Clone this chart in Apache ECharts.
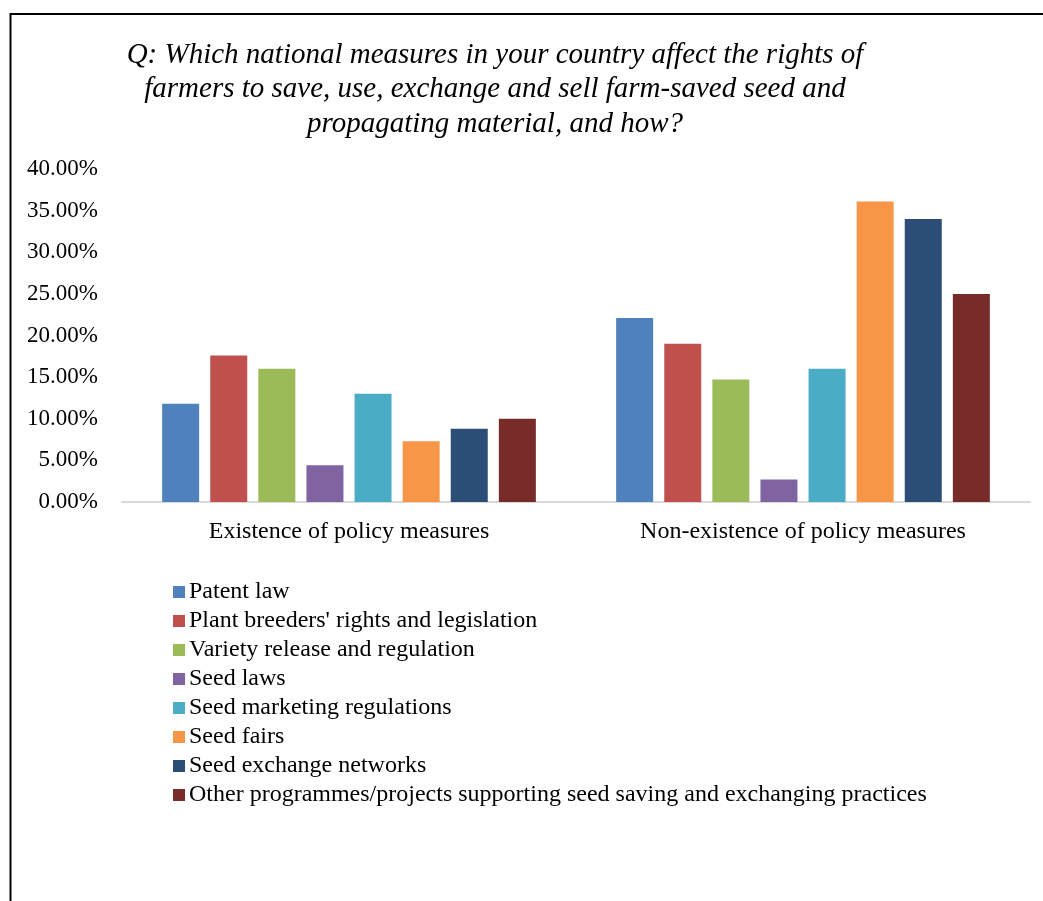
<!DOCTYPE html>
<html>
<head>
<meta charset="utf-8">
<style>
  html, body { margin: 0; padding: 0; background: #ffffff; }
  #chart { width: 1043px; height: 901px; }
</style>
<script src="https://cdn.jsdelivr.net/npm/echarts@6/dist/echarts.min.js"></script>
</head>
<body>
<div id="chart"></div>
<script>
// ---- data ----
const categories = ['Existence of policy measures', 'Non-existence of policy measures'];
const seriesNames = [
  'Patent law',
  "Plant breeders' rights and legislation",
  'Variety release and regulation',
  'Seed laws',
  'Seed marketing regulations',
  'Seed fairs',
  'Seed exchange networks',
  'Other programmes/projects supporting seed saving and exchanging practices'
];
const patentLaw          = [11.8, 22.1];
const plantBreeders      = [17.6, 19.0];
const varietyRelease     = [16.0, 14.7];
const seedLaws           = [4.4, 2.7];
const seedMarketing      = [13.0, 16.0];
const seedFairs          = [7.3, 36.1];
const seedExchange       = [8.8, 34.0];
const otherProgrammes    = [10.0, 25.0];
const yTicks = [0, 5, 10, 15, 20, 25, 30, 35, 40];
const titleLines = [
  'Q: Which national measures in your country affect the rights of',
  'farmers to save, use, exchange and sell farm-saved seed and',
  'propagating material, and how?'
];

const seriesValues = [patentLaw, plantBreeders, varietyRelease, seedLaws, seedMarketing, seedFairs, seedExchange, otherProgrammes];
const colors = ['#4F81BD', '#C0504D', '#9BBB59', '#8064A2', '#4BACC6', '#F79646', '#2C4D75', '#772C2A'];
const FONT = "'Liberation Serif', 'Times New Roman', serif";

const chart = echarts.init(document.getElementById('chart'), null, { renderer: 'canvas' });
chart.setOption({
  animation: false,
  backgroundColor: '#ffffff',
  color: colors,
  title: {
    text: titleLines.join('\n'),
    left: 490,
    textAlign: 'center',
    top: 33,
    textStyle: {
      fontFamily: FONT,
      fontStyle: 'italic',
      fontWeight: 'normal',
      fontSize: 29,
      lineHeight: 34.5,
      color: '#000000'
    }
  },
  graphic: [{
    type: 'rect',
    silent: true,
    shape: { x: 10.5, y: 14, width: 1200, height: 1000 },
    style: { fill: 'none', stroke: '#000000', lineWidth: 2 }
  }],
  legend: {
    orient: 'vertical',
    left: 173,
    top: 580,
    icon: 'rect',
    itemWidth: 12,
    itemHeight: 12,
    itemGap: 5,
    padding: 0,
    textStyle: { fontFamily: FONT, fontSize: 24, lineHeight: 24, color: '#000000', padding: [0, 0, 0, -1] },
    data: seriesNames
  },
  grid: { left: 122, right: 13, top: 169, bottom: 399, containLabel: false },
  xAxis: {
    type: 'category',
    data: categories,
    axisLine: { show: true, lineStyle: { color: '#d9d9d9', width: 2 } },
    axisTick: { show: false },
    axisLabel: { fontFamily: FONT, fontSize: 24, color: '#000000', margin: 18 },
    splitLine: { show: false }
  },
  yAxis: {
    type: 'value',
    min: yTicks[0],
    max: yTicks[yTicks.length - 1],
    interval: yTicks[1] - yTicks[0],
    axisLine: { show: false },
    axisTick: { show: false },
    splitLine: { show: false },
    axisLabel: {
      fontFamily: FONT, fontSize: 23, color: '#000000', margin: 24,
      padding: [4, 0, 0, 0],
      formatter: v => v.toFixed(2) + '%'
    }
  },
  series: seriesNames.map((name, i) => ({
    name: name,
    type: 'bar',
    data: seriesValues[i],
    barWidth: 37,
    barGap: '30%',
    itemStyle: { color: colors[i] }
  }))
});
</script>
</body>
</html>
